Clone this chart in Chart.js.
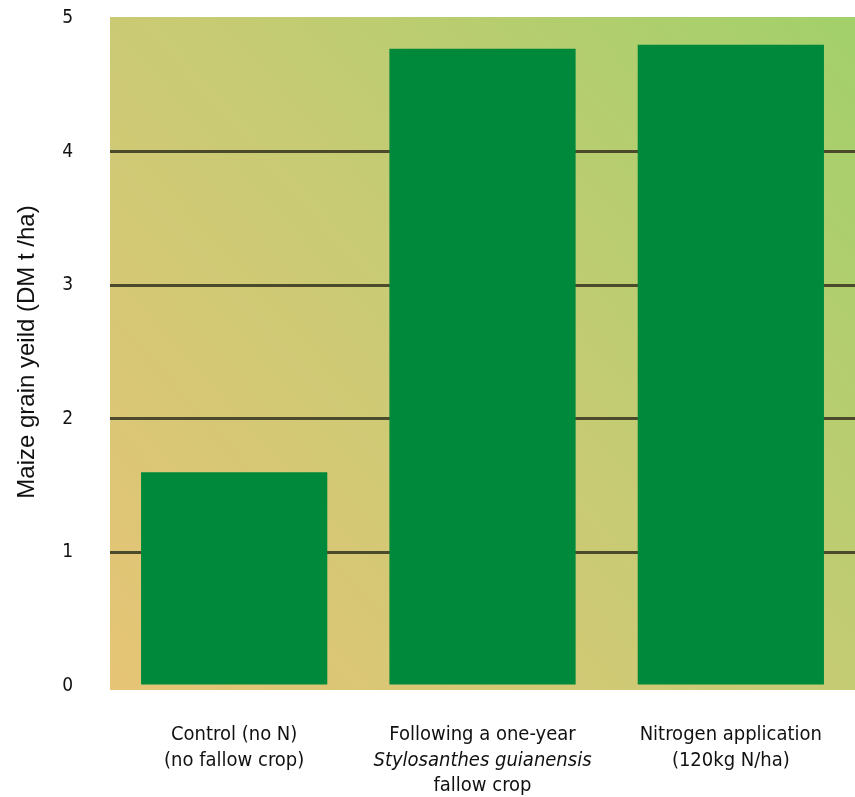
<!DOCTYPE html>
<html>
<head>
<meta charset="utf-8">
<script src="https://cdn.jsdelivr.net/npm/chart.js@4.4.1/dist/chart.umd.min.js"></script>
<style>
  body { margin: 0; background: #fff; }
  #wrap { width: 855px; height: 797px; }
</style>
</head>
<body>
<div id="wrap"><canvas id="yield-chart"></canvas></div>
<script>
// categories (one array per label, one entry per line)
const categories = [
    ['Control (no N)', '(no fallow crop)'],
    ['Following a one-year', 'Stylosanthes guianensis', 'fallow crop'],
    ['Nitrogen application', '(120kg N/ha)']
];
const italicLines = ['Stylosanthes guianensis'];
const yieldValues = [1.6, 4.77, 4.8];
const yTicks = [0, 1, 2, 3, 4, 5];
const yTitle = 'Maize grain yeild (DM t /ha)';

const narrowFont = "'DejaVu Sans Condensed', 'Liberation Sans Narrow', sans-serif";

// diagonal gradient behind the plot
const plotBackground = {
    id: 'plotBackground',
    beforeDraw(chart) {
        const { ctx, chartArea: a } = chart;
        const g = ctx.createLinearGradient(a.left, a.bottom, a.right, a.top);
        g.addColorStop(0, '#e6c476');
        g.addColorStop(0.5, '#c8cb74');
        g.addColorStop(1, '#a2d06a');
        ctx.save();
        ctx.fillStyle = g;
        ctx.fillRect(a.left, a.top - 1, a.right - a.left, a.bottom - a.top + 5);
        ctx.restore();
    }
};

// x labels drawn by hand so one line can be italic
const xLabels = {
    id: 'xLabels',
    afterDraw(chart) {
        const { ctx, scales } = chart;
        const x = scales.x;
        ctx.save();
        ctx.fillStyle = '#111';
        ctx.textAlign = 'center';
        ctx.textBaseline = 'middle';
        categories.forEach(function(lines, i) {
            const px = x.getPixelForValue(i);
            lines.forEach(function(line, j) {
                const italic = italicLines.indexOf(line) !== -1;
                ctx.font = (italic ? 'italic ' : '') + '20px ' + narrowFont;
                ctx.fillText(line, px, chart.chartArea.bottom + 49 + j * 25.5);
            });
        });
        ctx.restore();
    }
};

const ctx = document.getElementById('yield-chart').getContext('2d');
new Chart(ctx, {
    type: 'bar',
    data: {
        labels: categories,
        datasets: [{
            data: yieldValues,
            backgroundColor: '#00893b',
            borderWidth: 0,
            barPercentage: 0.75,
            categoryPercentage: 1
        }]
    },
    options: {
        responsive: true,
        maintainAspectRatio: false,
        animation: false,
        layout: { padding: { top: 18, left: 0, right: 0, bottom: 111 } },
        plugins: {
            legend: { display: false },
            tooltip: { enabled: false }
        },
        scales: {
            x: {
                grid: { display: false },
                border: { display: false },
                ticks: { display: false },
                afterFit(scale) {
                    scale.height = 0;
                    scale.paddingLeft = 0;
                    scale.paddingRight = 0;
                }
            },
            y: {
                min: 0,
                max: 5,
                afterBuildTicks(scale) {
                    scale.ticks = yTicks.map(v => ({ value: v }));
                },
                afterFit(scale) {
                    scale.width = 110;
                    scale.paddingTop = 0;
                    scale.paddingBottom = 0;
                },
                border: { display: false },
                grid: {
                    color: c => (c.tick.value === 0 || c.tick.value === 5) ? 'rgba(0,0,0,0)' : '#4b4a2c',
                    lineWidth: 3,
                    drawTicks: false
                },
                ticks: {
                    color: '#111',
                    padding: 37,
                    font: { family: narrowFont, size: 19 }
                },
                title: {
                    display: true,
                    text: yTitle,
                    color: '#111',
                    padding: { top: 13, bottom: 0 },
                    font: { family: "'Liberation Sans', Arial, sans-serif", size: 24 }
                }
            }
        }
    },
    plugins: [plotBackground, xLabels]
});
</script>
</body>
</html>
